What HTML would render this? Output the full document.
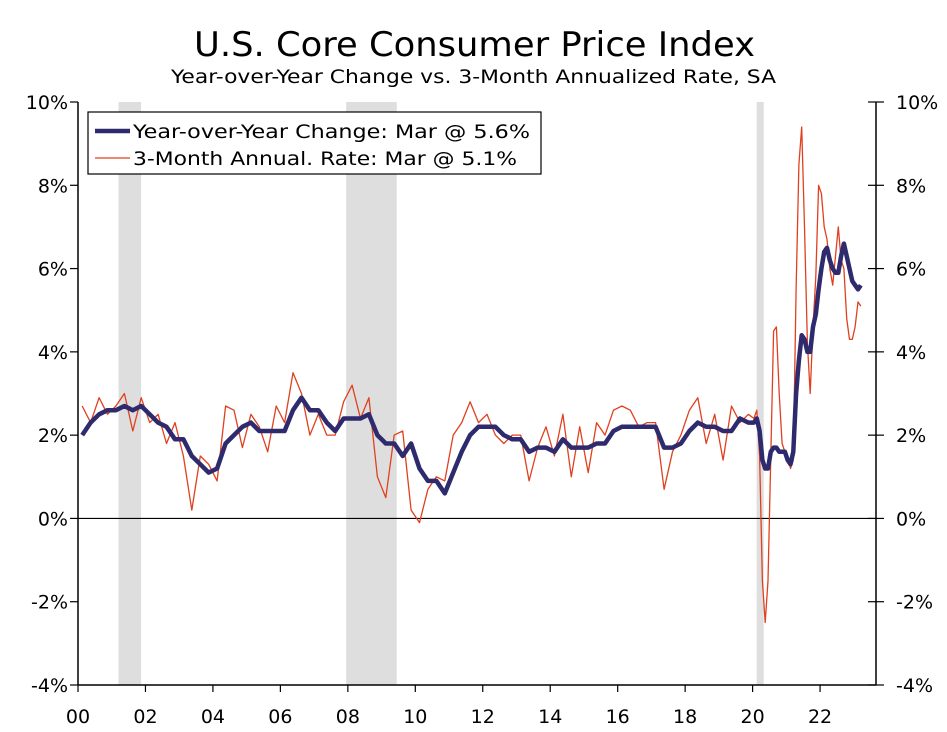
<!DOCTYPE html>
<html><head><meta charset="utf-8"><style>
body{margin:0;background:#fff;}
svg text{font-family:"DejaVu Sans","Liberation Sans",sans-serif;fill:#000;}
</style></head><body>
<svg id="chart" width="947" height="727" viewBox="0 0 947 727" xmlns="http://www.w3.org/2000/svg">
<text x="194" y="56" font-size="34" textLength="561" lengthAdjust="spacingAndGlyphs">U.S. Core Consumer Price Index</text>
<text x="171" y="83" font-size="19" textLength="605" lengthAdjust="spacingAndGlyphs">Year-over-Year Change vs. 3-Month Annualized Rate, SA</text>
<g id="rec"></g>
<g id="axes"></g>
<g id="series"></g>
<g>
<rect x="88" y="112" width="453" height="62" fill="#fff" stroke="#000" stroke-width="1.2"/>
<line x1="95" y1="131" x2="130" y2="131" stroke="#2e2a6e" stroke-width="4.5"/>
<text x="133" y="138" font-size="19" textLength="397" lengthAdjust="spacingAndGlyphs">Year-over-Year Change: Mar @ 5.6%</text>
<line x1="95" y1="158" x2="130" y2="158" stroke="#e0401f" stroke-width="1.3"/>
<text x="133" y="165" font-size="19" textLength="384" lengthAdjust="spacingAndGlyphs">3-Month Annual. Rate: Mar @ 5.1%</text>
</g>
</svg>
<script>
const yTicks=[-4,-2,0,2,4,6,8,10];
const xTickYears=[0,2,4,6,8,10,12,14,16,18,20,22];
const xTickLabels=["00","02","04","06","08","10","12","14","16","18","20","22"];
const recessions=[[2001.2,2001.87],[2007.95,2009.45],[2020.12,2020.33]];
const yoyQuarterly=[2.0,2.3,2.5,2.6, 2.6,2.7,2.6,2.7, 2.5,2.3,2.2,1.9, 1.9,1.5,1.3,1.1, 1.2,1.8,2.0,2.2, 2.3,2.1,2.1,2.1, 2.1,2.6,2.9,2.6, 2.6,2.3,2.1,2.4, 2.4,2.4,2.5,2.0, 1.8,1.8,1.5,1.8, 1.2,0.9,0.9,0.6, 1.1,1.6,2.0,2.2, 2.2,2.2,2.0,1.9, 1.9,1.6,1.7,1.7, 1.6,1.9,1.7,1.7, 1.7,1.8,1.8,2.1, 2.2,2.2,2.2,2.2, 2.2,1.7,1.7,1.8, 2.1,2.3,2.2,2.2, 2.1,2.1,2.4,2.3];
const yoyMonthly=[2.3,2.4,2.1,1.4,1.2,1.2,1.6,1.7,1.7,1.6,1.6,1.6, 1.4,1.3,1.6,3.0,3.8,4.4,4.3,4.0,4.0,4.6,4.9,5.5, 6.0,6.4,6.5,6.2,6.0,5.9,5.9,6.3,6.6,6.3,6.0,5.7, 5.6,5.5,5.6];
const rateQuarterly=[2.7,2.3,2.9,2.5, 2.7,3.0,2.1,2.9, 2.3,2.5,1.8,2.3, 1.5,0.2,1.5,1.3, 0.9,2.7,2.6,1.7, 2.5,2.2,1.6,2.7, 2.3,3.5,3.0,2.0, 2.5,2.0,2.0,2.8, 3.2,2.4,2.9,1.0, 0.5,2.0,2.1,0.2, -0.1,0.7,1.0,0.9, 2.0,2.3,2.8,2.3, 2.5,2.0,1.8,2.0, 2.0,0.9,1.7,2.2, 1.5,2.5,1.0,2.2, 1.1,2.3,2.0,2.6, 2.7,2.6,2.2,2.3, 2.3,0.7,1.6,2.0, 2.6,2.9,1.8,2.5, 1.4,2.7,2.3,2.5];
const rateMonthly=[2.4,2.6,1.5,-1.5,-2.5,-1.5,1.5,4.5,4.6,3.0,1.8,1.6, 1.5,1.2,1.4,5.5,8.5,9.4,7.0,4.2,3.0,4.6,5.8,8.0, 7.8,7.0,6.7,6.0,5.6,6.3,7.0,6.2,6.0,4.8,4.3,4.3, 4.6,5.2,5.1];

const NS="http://www.w3.org/2000/svg";
const X0=78,X1=876,YT=102,YB=685;
const xs=yr=>X0+(yr-2000)*33.73;
const ys=v=>YB-(v+4)*(YB-YT)/14;
function el(t,a,p){const e=document.createElementNS(NS,t);for(const k in a)e.setAttribute(k,a[k]);p.appendChild(e);return e;}
const rec=document.getElementById('rec'),axes=document.getElementById('axes'),ser=document.getElementById('series');
recessions.forEach(r=>{const e=el('rect',{x:xs(r[0]),y:YT,width:xs(r[1])-xs(r[0]),height:YB-YT,fill:'#dedede'},rec);

});
let a=el('line',{x1:X0,y1:YT,x2:X0,y2:YB,stroke:'#000','stroke-width':1.5},axes);

a=el('line',{x1:X1,y1:YT,x2:X1,y2:YB,stroke:'#000','stroke-width':1.5},axes);

a=el('line',{x1:X0,y1:YB,x2:X1,y2:YB,stroke:'#000','stroke-width':1.5},axes);

a=el('line',{x1:X0,y1:ys(0),x2:X1,y2:ys(0),stroke:'#000','stroke-width':1.2},axes);

yTicks.forEach(v=>{const y=ys(v);
el('line',{x1:X0-8,y1:y,x2:X0,y2:y,stroke:'#000','stroke-width':1.2},axes);
el('line',{x1:X1-8,y1:y,x2:X1+8,y2:y,stroke:'#000','stroke-width':1.2},axes);
const t=el('text',{x:X0-10,y:y+7,'font-size':19,'text-anchor':'end'},axes);t.textContent=v+'%';

const t2=el('text',{x:X1+20,y:y+7,'font-size':19},axes);t2.textContent=v+'%';
});
xTickYears.forEach((yv,i)=>{const x=xs(2000+yv);
el('line',{x1:x,y1:YB,x2:x,y2:YB+7,stroke:'#000','stroke-width':1.2},axes);
const t=el('text',{x:x,y:YB+38,'font-size':19,'text-anchor':'middle'},axes);t.textContent=xTickLabels[i];
});
function pts(q,m){const p=[];q.forEach((v,i)=>p.push([xs(2000+i*0.25+0.125),ys(v)]));m.forEach((v,i)=>p.push([xs(2020+i/12+0.04),ys(v)]));return p.map(d=>d[0].toFixed(1)+','+d[1].toFixed(1)).join(' ');}
let l=el('polyline',{points:pts(rateQuarterly,rateMonthly),fill:'none',stroke:'#e0401f','stroke-width':1.3,'stroke-linejoin':'round'},ser);

l=el('polyline',{points:pts(yoyQuarterly,yoyMonthly),fill:'none',stroke:'#2e2a6e','stroke-width':4.5,'stroke-linejoin':'round'},ser);

</script>
</body></html>
